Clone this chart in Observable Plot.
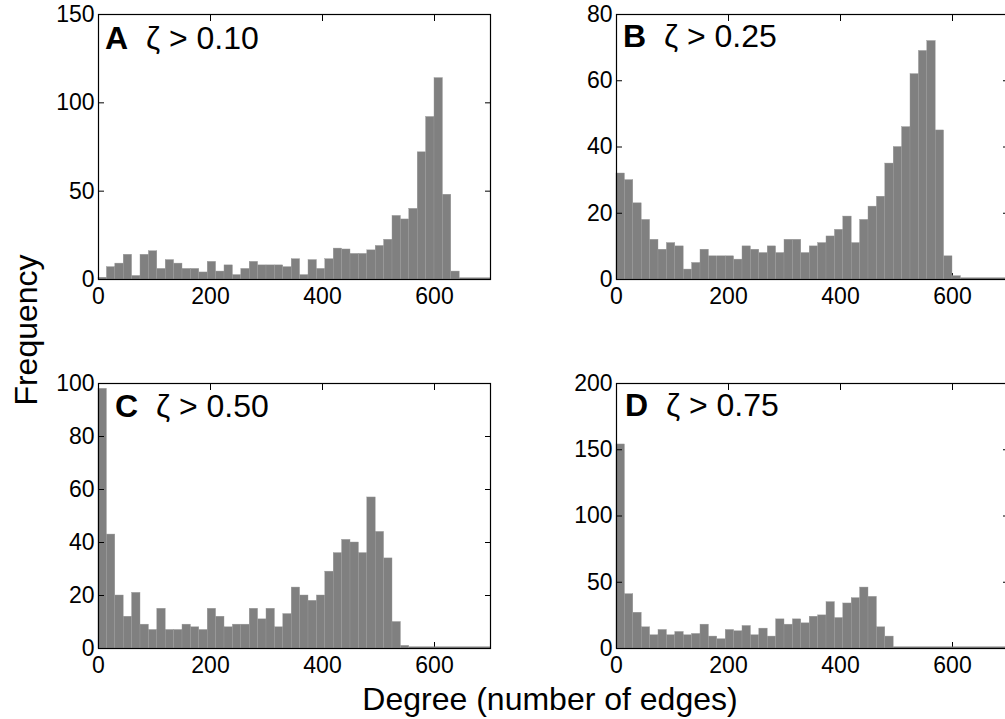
<!DOCTYPE html>
<html>
<head>
<meta charset="utf-8">
<script src="https://cdn.jsdelivr.net/npm/d3@7"></script>
<script src="https://cdn.jsdelivr.net/npm/@observablehq/plot@0.6"></script>
<style>
  html, body { margin: 0; padding: 0; background: white; }
  #fig { position: relative; width: 1005px; height: 719px; overflow: hidden; background: white;
         font-family: "Liberation Sans", Arial, Helvetica, sans-serif; color: black; }
  .panel { position: absolute; width: 452px; }
  .panel svg { max-width: none !important; }
  .title { position: absolute; font-size: 32px; line-height: 32px; white-space: nowrap; }
  .title b { font-weight: bold; }
  .xlabel { position: absolute; font-size: 32px; line-height: 32px; white-space: nowrap; transform: translateX(-50%); }
  .ylabel { position: absolute; font-size: 32px; line-height: 32px; white-space: nowrap; transform: translate(-50%, -50%) rotate(-90deg); }
</style>
</head>
<body>
<div id="fig"></div>
<script>
// ---- data ----
const binWidth = 15;            // degree units per histogram bin
const xTicks = [0, 200, 400, 600];

const countsA = [1, 7, 9, 14, 2, 14, 16, 6, 11, 9, 6, 6, 4, 10, 4.5, 8, 2.5, 6, 10, 8, 8, 8, 7, 11.5, 2.5,
                 11, 6, 11.5, 17.5, 17, 14.5, 14.5, 16.5, 19, 22.5, 36, 34, 40, 72, 92, 114, 48, 4.5];
const countsB = [32, 30, 23, 18, 12, 9, 11, 10, 3, 5, 9, 7, 7, 7, 6, 10, 9, 8, 10, 8, 12, 12, 8, 10, 11,
                 13, 15, 19, 11, 18, 22, 25, 35, 40, 46, 62, 69, 72, 45, 7, 1];
const countsC = [98, 43, 20, 12, 21, 9, 7, 15, 7, 7, 9, 8, 7, 15, 12, 8, 9, 9, 15, 11, 15, 8, 13, 23, 20,
                 18, 20, 29, 36, 41, 40, 36, 57, 44, 34, 10, 1];
const countsD = [154, 41, 27, 16, 10, 14, 10, 12.5, 10, 11, 18, 9, 7, 14, 13, 17, 10, 15, 9, 22, 18, 22,
                 19, 24, 25, 35, 23, 34, 38, 46, 39, 16, 9];

const yTicksA = [0, 50, 100, 150];
const yTicksB = [0, 20, 40, 60, 80];
const yTicksC = [0, 20, 40, 60, 80, 100];
const yTicksD = [0, 50, 100, 150, 200];

const panelLetters = ["A", "B", "C", "D"];
const panelThresholds = ["0.10", "0.25", "0.50", "0.75"];

const xLabel = "Degree (number of edges)";
const yLabel = "Frequency";

// ---- drawing ----
const xMax = 700;
const fig = document.getElementById("fig");

function panel(counts, yTicks) {
  const bins = counts.map((c, i) => ({x1: i * binWidth, x2: (i + 1) * binWidth, y: c}));
  const end = bins.length * binWidth;
  return Plot.plot({
    width: 452, height: 309,
    marginLeft: 50, marginRight: 10, marginTop: 14, marginBottom: 30,
    style: {fontFamily: '"Liberation Sans", Arial, sans-serif', fontSize: "23px", color: "black",
            background: "white", overflow: "visible", maxWidth: "none"},
    x: {domain: [0, xMax]},
    y: {domain: [0, yTicks[yTicks.length - 1]]},
    marks: [
      Plot.axisX({ticks: xTicks, anchor: "bottom", tickSize: -6, text: null, label: null}),
      Plot.rectY(bins, {x1: "x1", x2: "x2", y: "y", fill: "#808080", stroke: "#9a9a9a", strokeWidth: 0.4}),
      Plot.ruleY([0], {x1: end, x2: xMax, stroke: "#808080", strokeWidth: 2, dy: -1}),
      Plot.axisX({ticks: xTicks, anchor: "bottom", tickSize: 0, tickPadding: 8, label: null}),
      Plot.axisX({ticks: xTicks, anchor: "top", tickSize: -6, text: null, label: null}),
      Plot.axisY({ticks: yTicks, anchor: "left", tickSize: -6, text: null, label: null}),
      Plot.axisY({ticks: yTicks, anchor: "left", tickSize: 0, tickPadding: 4, label: null}),
      Plot.axisY({ticks: yTicks, anchor: "right", tickSize: -6, text: null, label: null}),
      Plot.frame({stroke: "black", strokeWidth: 1.2})
    ]
  });
}

const layout = [
  {counts: countsA, ticks: yTicksA, left: 48,  top: 0,   tLeft: 105, tTop: 22},
  {counts: countsB, ticks: yTicksB, left: 566, top: 0,   tLeft: 623, tTop: 20},
  {counts: countsC, ticks: yTicksC, left: 48,  top: 369, tLeft: 115, tTop: 390},
  {counts: countsD, ticks: yTicksD, left: 566, top: 369, tLeft: 625, tTop: 389}
];

layout.forEach((p, i) => {
  const div = document.createElement("div");
  div.className = "panel";
  div.style.left = p.left + "px";
  div.style.top = p.top + "px";
  div.appendChild(panel(p.counts, p.ticks));
  fig.appendChild(div);

  const t = document.createElement("div");
  t.className = "title";
  t.style.left = p.tLeft + "px";
  t.style.top = p.tTop + "px";
  const b = document.createElement("b");
  b.textContent = panelLetters[i];
  t.appendChild(b);
  t.appendChild(document.createTextNode("\u00a0\u00a0ζ > " + panelThresholds[i]));
  fig.appendChild(t);
});

const xl = document.createElement("div");
xl.className = "xlabel";
xl.style.left = "550px";
xl.style.top = "683px";
xl.textContent = xLabel;
fig.appendChild(xl);

const yl = document.createElement("div");
yl.className = "ylabel";
yl.style.left = "26px";
yl.style.top = "330px";
yl.textContent = yLabel;
fig.appendChild(yl);
</script>
</body>
</html>
